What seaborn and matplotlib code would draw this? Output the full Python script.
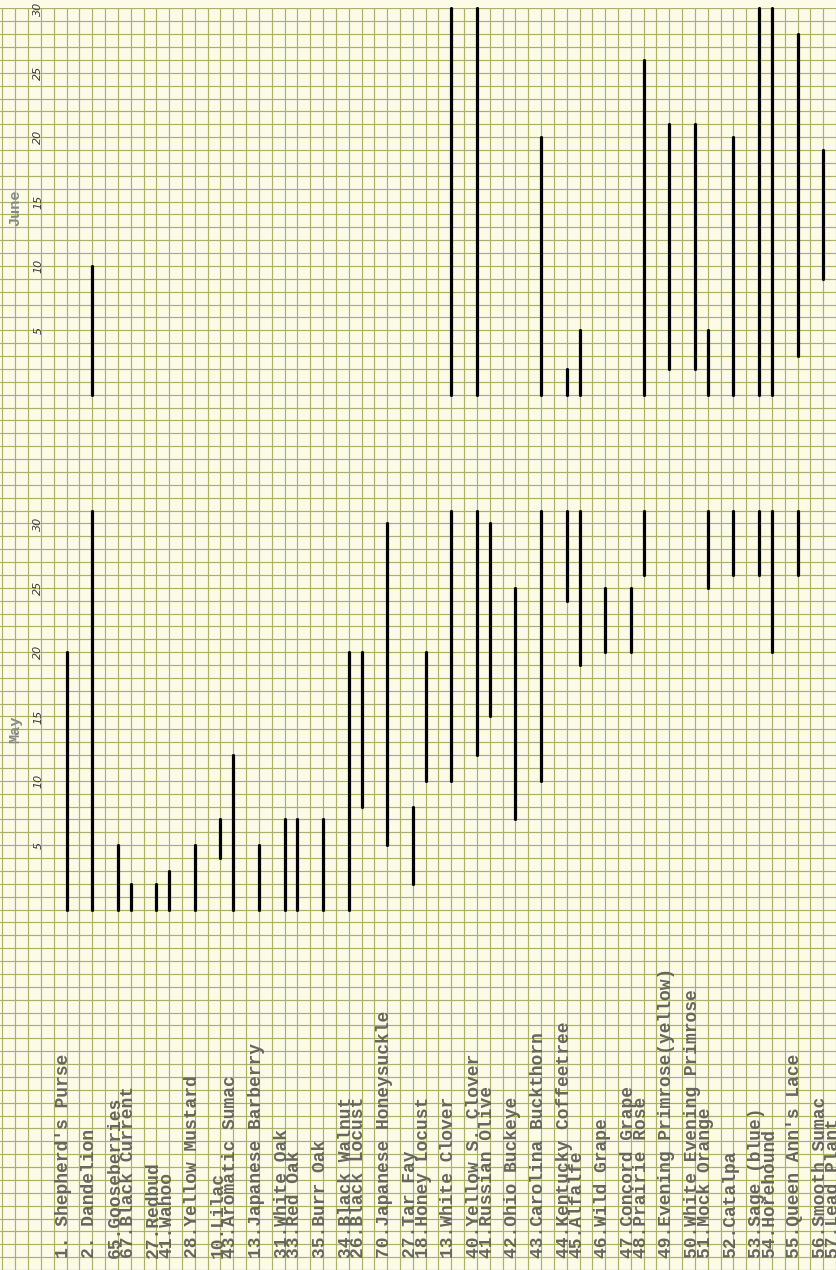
"""
Bloom calendar on graph paper: flowering periods of plants in May and June
"""

import matplotlib
matplotlib.use("Agg")
from matplotlib import pyplot as plt
import pandas as pd
import seaborn as sns

# plant list as typed on the sheet
plants = [
    "1. Shepherd's Purse", "2. Dandelion", "65.Gooseberries", "67.Black Current",
    "27.Redbud", "41.Wahoo", "28.Yellow Mustard", "10.Lilac", "43.Aromatic Sumac",
    "13.Japanese Barberry", "31.White Oak", "33.Red Oak", "35.Burr Oak",
    "34.Black Walnut", "26.Black Locust", "70.Japanese Honeysuckle", "27.Tar Fay",
    "18.Honey Locust", "13.White Clover", "40.Yellow S. Clover", "41.Russian Olive",
    "42.Ohio Buckeye", "43.Carolina Buckthorn", "44.Kentucky Coffeetree",
    "45.Alfalfe", "46.Wild Grape", "47.Concord Grape", "48.Prairie Rose",
    "49.Evening Primrose(yellow)", "50.White Evening Primrose", "51.Mock Orange",
    "52.Catalpa", "53.Sage (blue)", "54.Horehound", "55.Queen Ann's Lace",
    "56.Smooth Sumac", "57.Lead Plant",
]

# bloom periods (day of month, 0 = start of month), None = no bloom that month
may_start = [0, 0, 0, 0, 0, 0, 0, 4, 0, 0, 0, 0, 0, 0, 8, 5, 2, 10, 10, 12, 15, 7,
             10, 24, 19, 20, 20, 26, None, None, 25, 26, 26, 20, 26, None, None]
may_end = [20, 31, 5, 2, 2, 3, 5, 7, 12, 5, 7, 7, 7, 20, 20, 30, 8, 20, 31, 31, 30, 25,
           31, 31, 31, 25, 25, 31, None, None, 31, 31, 31, 31, 31, None, None]
june_start = [None, 0, None, None, None, None, None, None, None, None, None, None, None,
              None, None, None, None, None, 0, 0, None, None,
              0, 0, 0, None, None, 0, 2, 2, 0, 0, 0, 0, 3, 9, None]
june_end = [None, 10, None, None, None, None, None, None, None, None, None, None, None,
            None, None, None, None, None, 30, 30, None, None,
            20, 2, 5, None, None, 26, 21, 21, 5, 20, 30, 30, 28, 19, None]

day_ticks = [5, 10, 15, 20, 25, 30]

# layout: blank cells before each entry (typewriter line spacing)
line_gap = [5, 2, 2, 1, 2, 1, 2, 2, 1, 2, 2, 1, 2, 2, 1, 2, 2, 1, 2, 2, 1, 2, 2, 2,
            1, 2, 2, 1, 2, 2, 1, 2, 2, 1, 2, 2, 1]
JUNE0 = 40  # grid row where June starts

slots = pd.Series(line_gap).cumsum().tolist()

rows = []
for i, x in enumerate(slots):
    if may_start[i] is not None:
        rows.append((f"{i}m", x, may_start[i]))
        rows.append((f"{i}m", x, may_end[i]))
    if june_start[i] is not None:
        rows.append((f"{i}j", x, JUNE0 + june_start[i]))
        rows.append((f"{i}j", x, JUNE0 + june_end[i]))
segs = pd.DataFrame(rows, columns=["seg", "slot", "day"])

sns.set_style("white")
paper = "#fbfbe8"
grid_col = "#adb068"
plt.rcParams["font.family"] = ["Liberation Mono", "DejaVu Sans Mono"]

fig = plt.figure(figsize=(8.36, 12.70), dpi=100, facecolor=paper)
ax = fig.add_axes([0, 0, 1, 1])
ax.set_facecolor(paper)

sns.lineplot(
    data=segs, x="slot", y="day", units="seg", estimator=None, sort=False,
    color="black", linewidth=2.3, ax=ax, zorder=4, legend=False,
)

# graph paper
ax.set_xlim(-0.19, 64.87)
ax.set_ylim(-27.41, 70.66)
ax.set_xticks(range(0, 66))
ax.set_yticks(range(-28, 71))
ax.grid(True, color=grid_col, linewidth=0.85)
ax.set_axisbelow(True)
ax.tick_params(length=0, labelbottom=False, labelleft=False)
ax.set_xlabel("")
ax.set_ylabel("")
for s in ax.spines.values():
    s.set_visible(False)
ax.axhspan(70.0, 72, color=paper, zorder=2, lw=0)

# handwritten day numbers
for d in day_ticks:
    for base in (0, JUNE0):
        ax.text(2.8, base + d, str(d), rotation=90, ha="center", va="center",
                fontsize=8, style="italic", family="DejaVu Sans", color="#3c3c38",
                zorder=5)

ax.text(1.0, 14, "May", rotation=90, ha="center", va="center", fontsize=11,
        fontweight="bold", color="#8a8a80", zorder=5)
ax.text(1.0, JUNE0 + 14.5, "June", rotation=90, ha="center", va="center",
        fontsize=11, fontweight="bold", color="#8a8a80", zorder=5)

# typed plant names
for name, x in zip(plants, slots):
    ax.text(x - 0.2, -27.1, name, rotation=90, ha="center", va="bottom",
            fontsize=13, fontweight="bold", color="#66665c", zorder=5)

plt.savefig("out.png", dpi=100, facecolor=paper)
